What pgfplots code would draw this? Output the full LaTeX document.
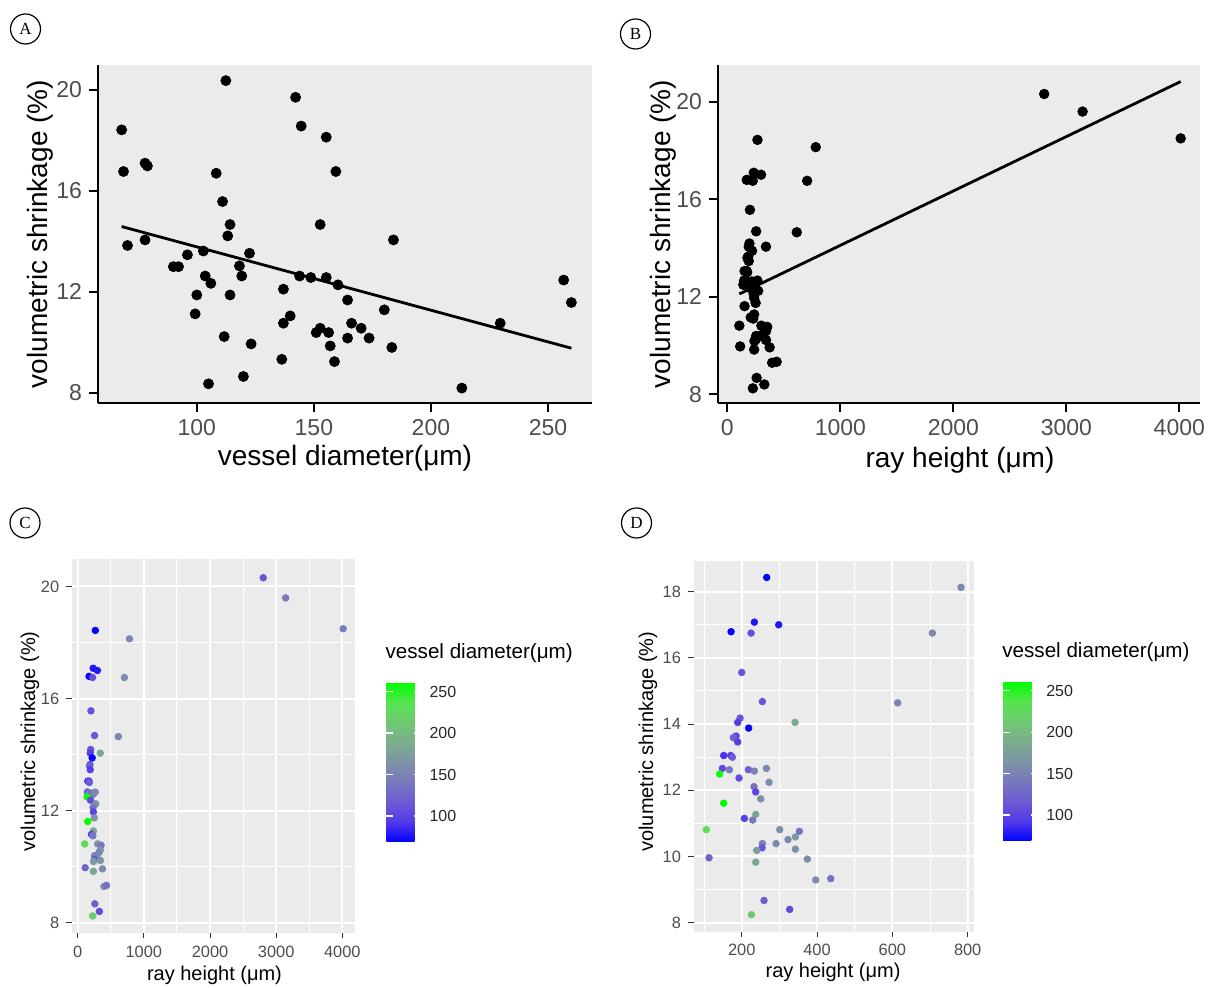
\documentclass[border=0pt]{standalone}
\usepackage{pgfplots}
\pgfplotsset{compat=1.18}
\usepackage{pgfplotstable}
\usepackage{fontspec}
\setmainfont{Liberation Sans}
\newfontfamily\seriffont{Liberation Serif}
\definecolor{panel}{HTML}{EBEBEB}
\definecolor{tickgrey}{HTML}{4D4D4D}
\definecolor{tickmark}{HTML}{333333}

\pgfplotstableread{
d s
67.9 18.42
68.7 16.77
77.9 17.10
78.9 16.99
70.4 13.84
77.9 14.06
96.0 13.47
90.0 13.00
92.2 13.00
102.8 13.62
103.6 12.63
106.0 12.34
100.0 11.88
99.3 11.13
105.0 8.36
112.4 20.37
108.3 16.70
111.0 15.58
114.2 14.67
113.2 14.22
118.2 13.03
119.2 12.63
122.5 13.53
114.2 11.88
111.7 10.23
123.2 9.94
119.9 8.65
142.2 19.71
144.6 18.57
155.3 18.13
159.4 16.77
152.7 14.67
137.0 12.11
143.9 12.63
148.7 12.57
155.3 12.57
160.3 12.28
139.9 11.05
137.0 10.76
136.3 9.33
151.0 10.39
152.7 10.56
156.3 10.39
157.0 9.86
158.8 9.24
164.4 11.68
166.1 10.76
170.2 10.56
164.4 10.17
173.6 10.17
180.1 11.29
184.0 14.06
183.3 9.80
213.2 8.19
229.6 10.76
256.7 12.47
260.0 11.58
}\dataA

\pgfplotstableread{
r s d
266.4 18.43 68
782.3 18.13 155
233.6 17.08 78
298.2 17.00 79
171.7 16.79 69
224.8 16.75 108
706.2 16.75 159
200.0 15.56 111
254.9 14.68 114
614.2 14.64 153
195.6 14.18 113
189.4 14.05 95
218.6 13.88 70
341.6 14.05 184
185.0 13.64 103
177.9 13.59 122
189.4 13.46 96
152.2 13.05 90
170.8 13.05 92
175.2 13.00 118
148.7 12.66 104
167.3 12.62 144
217.7 12.62 119
233.6 12.58 149
265.5 12.66 155
141.6 12.49 257
192.9 12.37 106
272.6 12.24 160
232.7 12.11 137
237.2 11.95 100
250.4 11.74 164
152.2 11.61 260
237.2 11.27 180
207.1 11.15 99
229.2 11.10 140
106.1 10.81 230
300.9 10.81 166
353.1 10.76 137
342.5 10.59 170
323.0 10.51 153
254.9 10.39 151
291.2 10.39 156
254.0 10.26 112
239.8 10.18 174
342.5 10.22 164
113.3 9.96 123
374.3 9.92 157
237.2 9.83 183
396.5 9.29 159
436.3 9.33 136
259.3 8.67 120
327.4 8.40 105
225.7 8.24 213
2804 20.31 112
3144 19.59 142
4012 18.49 145
}\dataCD

\pgfplotsset{
  colormap={bluegreen}{rgb255(0)=(0,0,255) rgb255(1)=(83,58,233) rgb255(2)=(108,91,211) rgb255(3)=(121,120,189) rgb255(4)=(125,147,166) rgb255(5)=(123,174,141) rgb255(6)=(111,201,114) rgb255(7)=(87,228,79) rgb255(8)=(0,255,0)},
  topstyle/.style={
    scale only axis,
    axis background/.style={fill=panel},
    axis x line*=bottom, axis y line*=left,
    axis line style={-, black, line width=1pt},
    tick align=outside, major tick length=4.5pt,
    tick style={black, line width=1pt},
    ticklabel style={font=\fontsize{11.5}{13}\selectfont, text=tickgrey},
    label style={font=\fontsize{14}{16}\selectfont},
    /pgf/number format/assume math mode=true,
    /pgf/number format/1000 sep={},
  },
  lowstyle/.style={
    scale only axis,
    axis background/.style={fill=panel},
    axis line style={draw=none},
    grid=both,
    major grid style={white, line width=1pt},
    minor grid style={white, line width=0.5pt},
    tick align=outside, major tick length=2.75pt, minor tick length=0pt,
    tick style={tickmark, line width=0.5pt},
    xtick pos=left, ytick pos=left,
    ticklabel style={font=\fontsize{8.2}{9}\selectfont, text=tickgrey},
    label style={font=\fontsize{10}{12}\selectfont},
    /pgf/number format/assume math mode=true,
    /pgf/number format/1000 sep={},
    colormap name=bluegreen,
    point meta min=68.7, point meta max=260.8,
    colorbar,
  },
  cbstyle/.style={
    scale only axis, width=17.5pt, height=79.6pt,
    ytick={100,150,200,250},
    axis on top,
    axis line style={draw=none},
    tick align=inside, major tick length=3.4pt,
    ytick pos=both, yticklabel pos=right,
    tick style={white, line width=0.6pt},
    yticklabel style={font=\fontsize{8}{9}\selectfont, text=black!85, xshift=0.6pt},
    /pgf/number format/assume math mode=true,
    title={vessel diameter(μm)},
    title style={at={(0,1)}, anchor=south west, inner sep=0pt, yshift=3.8pt, xshift=-0.5pt, font=\fontsize{10.3}{12}\selectfont},
  },
}

\begin{document}
\begin{tikzpicture}
\useasboundingbox (0pt,0pt) rectangle (608pt,494pt);

% Panel A
\begin{axis}[topstyle,
  at={(49pt,292.5pt)}, anchor=south west, width=247pt, height=169pt,
  xmin=57.8, xmax=268.8, ymin=7.6, ymax=20.99,
  xtick={100,150,200,250}, ytick={8,12,16,20},
  xlabel={vessel diameter(μm)}, ylabel={volumetric shrinkage (\%)},
  xlabel style={at={(axis description cs:0.5,-0.1627)}, anchor=center},
  ylabel style={at={(axis description cs:-0.1174,0.5)}, anchor=center},
]
\addplot[only marks, mark=*, mark size=2.5pt, black] table[x=d, y=s] {\dataA};
\addplot[black, line width=1.4pt] coordinates {(67.9,14.59) (260,9.77)};
\end{axis}

% Panel B
\begin{axis}[topstyle,
  at={(359pt,292.5pt)}, anchor=south west, width=241pt, height=169pt,
  xmin=-82.7, xmax=4183, ymin=7.64, ymax=21.5,
  xtick={0,1000,2000,3000,4000}, ytick={8,12,16,20},
  xlabel={ray height (μm)}, ylabel={volumetric shrinkage (\%)},
  xlabel style={at={(axis description cs:0.502,-0.1686)}, anchor=center},
  ylabel style={at={(axis description cs:-0.1141,0.5)}, anchor=center},
]
\addplot[black, line width=1.4pt] coordinates {(106,12.11) (4012,20.82)};
\addplot[only marks, mark=*, mark size=2.4pt, black] table[x=r, y=s] {\dataCD};
\end{axis}

% Panel C
\begin{axis}[lowstyle,
  at={(35.85pt,27.5pt)}, anchor=south west, width=141.65pt, height=187pt,
  xmin=-90.7, xmax=4191, ymin=7.63, ymax=20.98,
  xtick={0,1000,2000,3000,4000}, ytick={8,12,16,20},
  minor xtick={500,1500,2500,3500}, minor ytick={10,14,18},
  xlabel={ray height (μm)}, ylabel={volumetric shrinkage (\%)},
  xlabel style={at={(axis description cs:0.504,-0.1123)}, anchor=center},
  ylabel style={at={(axis description cs:-0.1472,0.512)}, anchor=center},
  colorbar shift/.style={xshift=9.5pt, yshift=-61.85pt},
  colorbar style={cbstyle},
]
\addplot[scatter, only marks, mark=*, mark size=1.65pt, scatter src=explicit,
  scatter/use mapped color={draw=mapped color, fill=mapped color}]
  table[x=r, y=s, meta=d] {\dataCD};
\end{axis}

% Panel D
\begin{axis}[lowstyle,
  at={(346.75pt,28.2pt)}, anchor=south west, width=140.1pt, height=185.5pt,
  xmin=72, xmax=816, ymin=7.73, ymax=18.94,
  xtick={200,400,600,800}, ytick={8,10,12,14,16,18},
  minor xtick={100,300,500,700}, minor ytick={9,11,13,15,17},
  xlabel={ray height (μm)}, ylabel={volumetric shrinkage (\%)},
  xlabel style={at={(axis description cs:0.498,-0.1089)}, anchor=center},
  ylabel style={at={(axis description cs:-0.1624,0.512)}, anchor=center},
  colorbar shift/.style={xshift=7.5pt, yshift=-60.6pt},
  colorbar style={cbstyle},
]
\addplot[scatter, only marks, mark=*, mark size=1.65pt, scatter src=explicit,
  scatter/use mapped color={draw=mapped color, fill=mapped color}]
  table[x=r, y=s, meta=d] {\dataCD};
\end{axis}

% Panel letters
\node[circle, draw=black, line width=0.6pt, minimum size=15pt, inner sep=0pt, font=\seriffont\fontsize{8.5}{9}\selectfont] at (12.75pt,479.5pt) {A};
\node[circle, draw=black, line width=0.6pt, minimum size=15pt, inner sep=0pt, font=\seriffont\fontsize{8.5}{9}\selectfont] at (317.75pt,477pt) {B};
\node[circle, draw=black, line width=0.6pt, minimum size=15pt, inner sep=0pt, font=\seriffont\fontsize{8.5}{9}\selectfont] at (12.5pt,232.5pt) {C};
\node[circle, draw=black, line width=0.6pt, minimum size=15pt, inner sep=0pt, font=\seriffont\fontsize{8.5}{9}\selectfont] at (318.25pt,232.5pt) {D};
\end{tikzpicture}
\end{document}
